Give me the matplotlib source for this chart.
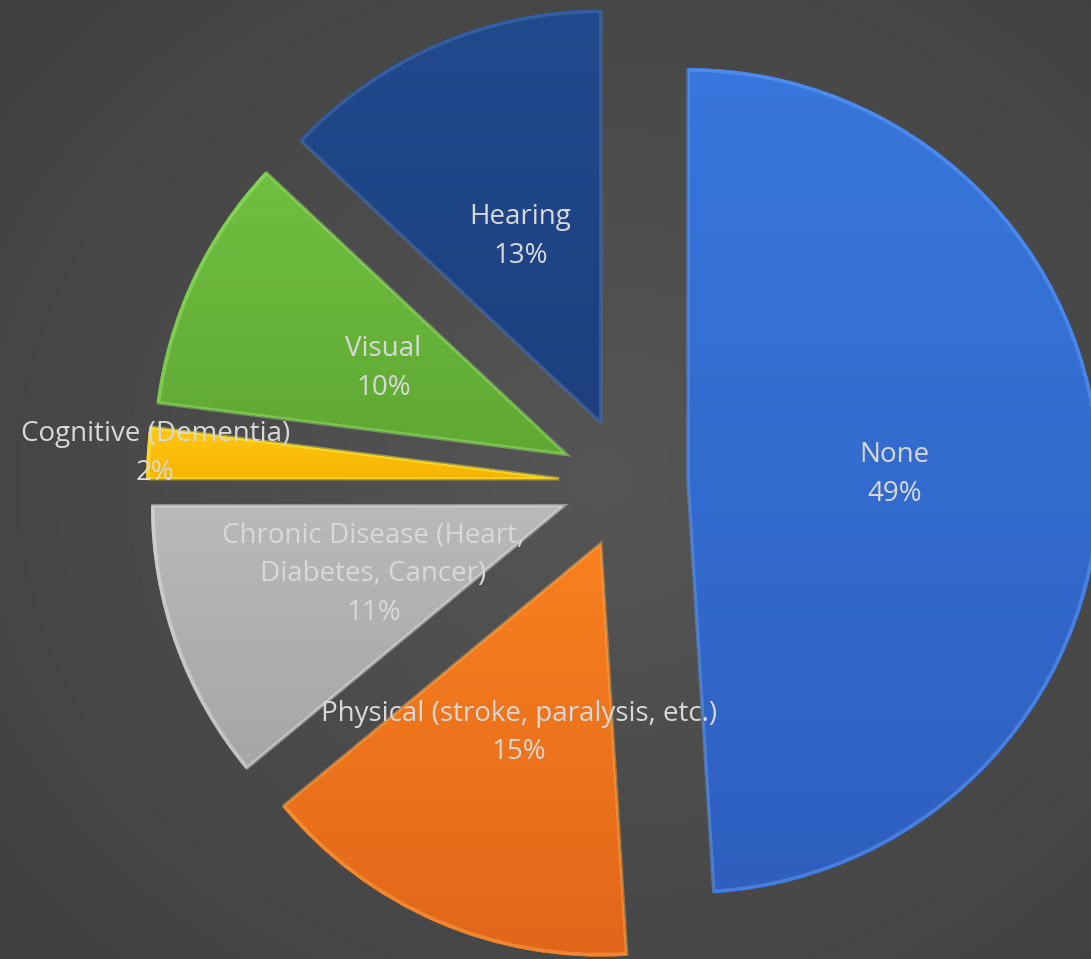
import numpy as np
import matplotlib
matplotlib.use("Agg")
import matplotlib.pyplot as plt
from matplotlib.colors import to_rgb

categories = ["None", "Physical (stroke, paralysis, etc.)", "Chronic Disease (Heart,\nDiabetes, Cancer)",
              "Cognitive (Dementia)", "Visual", "Hearing"]
values = [49, 15, 11, 2, 10, 13]
top_colors = ["#3877DD", "#F8801F", "#B9B9B9", "#FFC814", "#70C040", "#214A8C"]
bot_colors = ["#2E5FBF", "#E2661A", "#A6A6A6", "#F5B400", "#5FA833", "#1C4080"]
label_dist = [0.50, 0.50, 0.49, 0.98, 0.49, 0.49]

W, H = 1091, 959
fig = plt.figure(figsize=(W / 100, H / 100), dpi=100)
ax = fig.add_axes([0, 0, 1, 1])

R = 413
cx, cy = 627, H - 483
explode = [61, 66, 67, 68, 67, 66]
wedges, _ = ax.pie(values, radius=R, center=(cx, cy), startangle=90, counterclock=False,
                   explode=explode, colors=top_colors, wedgeprops=dict(linewidth=0), frame=True)
ax.set_xlim(0, W)
ax.set_ylim(0, H)
ax.set_aspect("equal")
ax.axis("off")

# background radial gradient
yy, xx = np.mgrid[0:H, 0:W]
rr = np.hypot((xx - W * 0.55) / W, (yy - H * 0.5) / H)
bg = np.clip(0x56 - rr * 30, 0, 255) / 255.0
ax.imshow(np.dstack([bg, bg, bg]), extent=(0, W, 0, H), origin="lower", zorder=0)

for i, w in enumerate(wedges):
    w.set_zorder(2)
    ext = w.get_path().get_extents()
    c1 = np.array(to_rgb(top_colors[i]))
    c2 = np.array(to_rgb(bot_colors[i]))
    t = np.linspace(0, 1, 256)[:, None]
    grad = c2[None, :] * (1 - t) + c1[None, :] * t
    img = ax.imshow(grad[:, None, :].repeat(2, axis=1),
                    extent=(ext.x0 - 2, ext.x1 + 2, ext.y0 - 2, ext.y1 + 2),
                    origin="lower", aspect="auto", zorder=3)
    img.set_clip_path(w)
    light = np.clip(c1 + 0.18, 0, 1)
    ax.add_patch(matplotlib.patches.Wedge(w.center, w.r - 2, w.theta1, w.theta2,
                                          facecolor="none", edgecolor=light, linewidth=2.5,
                                          alpha=0.45, zorder=4))

    ang = np.deg2rad((w.theta1 + w.theta2) / 2)
    x = w.center[0] + R * label_dist[i] * np.cos(ang)
    y = w.center[1] + R * label_dist[i] * np.sin(ang)
    ax.text(x, y, f"{categories[i]}\n{values[i]}%", ha="center", va="center",
            color="#D9D9D9", fontsize=20, family=["Open Sans", "DejaVu Sans"],
            linespacing=1.5, zorder=6)

ax.set_xlim(0, W)
ax.set_ylim(0, H)
fig.savefig("out.png", dpi=100, facecolor="#4A4A4A")
